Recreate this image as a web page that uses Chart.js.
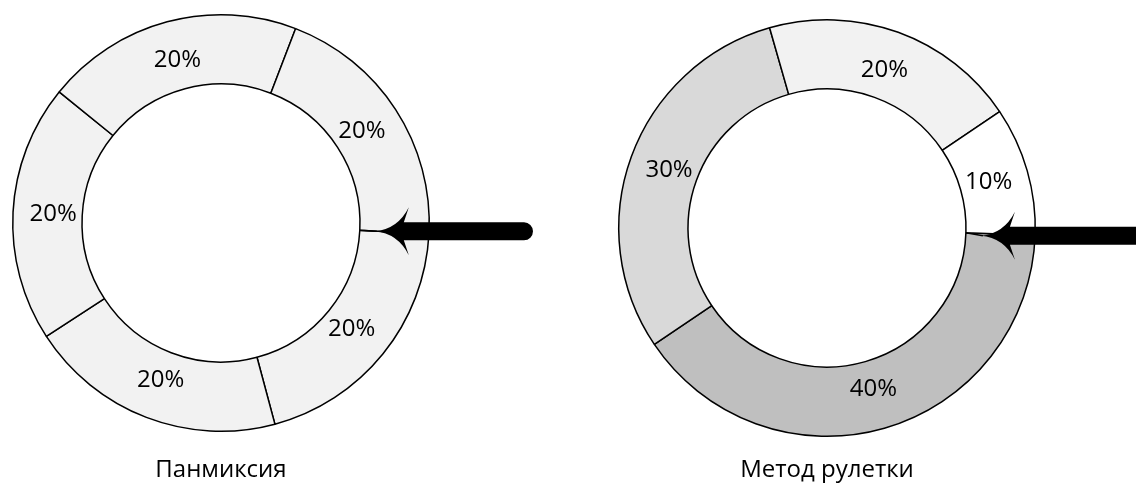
<!DOCTYPE html>
<html lang="ru">
<head>
<meta charset="utf-8">
<title>Панмиксия и метод рулетки</title>
<script src="https://cdn.jsdelivr.net/npm/chart.js@4.4.1/dist/chart.umd.min.js"></script>
<style>
  html, body { margin: 0; padding: 0; background: #fff; width: 1136px; height: 483px; overflow: hidden; }
  canvas { position: absolute; top: 0; }
  #panmixia { left: 0; }
  #roulette { left: 606px; }
</style>
</head>
<body>
<canvas id="panmixia" width="560" height="483"></canvas>
<canvas id="roulette" width="530" height="483"></canvas>
<script>
// Selection chances of the individuals, in percent, listed clockwise
// starting from the pointer.
const panmixiaTitle = 'Панмиксия';
const panmixiaSectors = ['Особь 1', 'Особь 2', 'Особь 3', 'Особь 4', 'Особь 5'];
const panmixiaShares = [20, 20, 20, 20, 20];

const rouletteTitle = 'Метод рулетки';
const rouletteSectors = ['Особь 1', 'Особь 2', 'Особь 3', 'Особь 4'];
const rouletteShares = [40, 30, 20, 10];

// Sector fills
const panmixiaFills = ['#f2f2f2', '#f2f2f2', '#f2f2f2', '#f2f2f2', '#f2f2f2'];
const rouletteFills = ['#bfbfbf', '#d9d9d9', '#f2f2f2', '#ffffff'];

const FONT = "'Open Sans', 'DejaVu Sans', sans-serif";
Chart.defaults.font.family = FONT;

// Writes "NN%" inside each sector, at its mid angle.
const sectorLabels = {
  id: 'sectorLabels',
  afterDatasetsDraw(chart, args, opts) {
    const ctx = chart.ctx;
    const meta = chart.getDatasetMeta(0);
    const values = chart.data.datasets[0].data;
    ctx.save();
    ctx.font = `${opts.size}px ${FONT}`;
    ctx.fillStyle = opts.color;
    ctx.textAlign = 'center';
    ctx.textBaseline = 'middle';
    meta.data.forEach((arc, i) => {
      const p = arc.getProps(['x', 'y', 'startAngle', 'endAngle', 'innerRadius', 'outerRadius'], true);
      const a = (p.startAngle + p.endAngle) / 2;
      const r = p.innerRadius + opts.depth * (p.outerRadius - p.innerRadius);
      ctx.fillText(values[i] + '%', p.x + r * Math.cos(a), p.y + r * Math.sin(a));
    });
    ctx.restore();
  }
};

// Thick pointer arrow aimed at the start of the first sector on the inner rim.
const wheelPointer = {
  id: 'wheelPointer',
  afterDraw(chart, args, opts) {
    const arc = chart.getDatasetMeta(0).data[0];
    const p = arc.getProps(['x', 'y', 'startAngle', 'innerRadius'], true);
    const tx = p.x + p.innerRadius * Math.cos(p.startAngle);
    const ty = p.y + p.innerRadius * Math.sin(p.startAngle);
    const sy = ty + opts.drop;
    const hx = tx + 15;
    const half = 9;
    const ctx = chart.ctx;
    ctx.save();
    ctx.fillStyle = '#000';
    ctx.strokeStyle = '#000';
    // fine tip running into the rim
    ctx.lineWidth = 1.5;
    ctx.beginPath();
    ctx.moveTo(tx, ty);
    ctx.lineTo(hx + 2, sy);
    ctx.stroke();
    // head with swept barbs, then the shaft with a rounded tail
    ctx.beginPath();
    ctx.moveTo(hx, sy);
    ctx.quadraticCurveTo(tx + 38, sy - 2, tx + 49, sy - 24);
    ctx.lineTo(tx + 44, sy - half);
    ctx.lineTo(opts.tailX, sy - half);
    ctx.arc(opts.tailX, sy, half, -Math.PI / 2, Math.PI / 2);
    ctx.lineTo(tx + 44, sy + half);
    ctx.lineTo(tx + 49, sy + 24);
    ctx.quadraticCurveTo(tx + 38, sy + 2, hx, sy);
    ctx.closePath();
    ctx.fill();
    ctx.restore();
  }
};

function wheel(canvasId, sectors, shares, fills, title, cfg) {
  return new Chart(document.getElementById(canvasId), {
    type: 'doughnut',
    data: {
      labels: sectors,
      datasets: [{
        data: shares,
        backgroundColor: fills,
        borderColor: '#000',
        borderWidth: 1.5
      }]
    },
    options: {
      responsive: false,
      animation: false,
      events: [],
      rotation: cfg.rotation,
      cutout: 139,
      layout: { padding: cfg.padding },
      plugins: {
        legend: { display: false },
        tooltip: { enabled: false },
        title: {
          display: true,
          text: title,
          position: 'bottom',
          color: '#000',
          font: { family: FONT, size: 24, weight: 'normal', lineHeight: 1 },
          padding: cfg.titlePadding
        },
        sectorLabels: { size: 24, color: '#000', depth: 0.42 },
        wheelPointer: cfg.pointer
      }
    },
    plugins: [sectorLabels, wheelPointer]
  });
}

wheel('panmixia', panmixiaSectors, panmixiaShares, panmixiaFills, panmixiaTitle, {
  rotation: 93,
  padding: { left: 12, top: 14, right: 130, bottom: 0 },
  titlePadding: { top: 26, bottom: 1 },
  pointer: { tailX: 524, drop: 1 }
});

wheel('roulette', rouletteSectors, rouletteShares, rouletteFills, rouletteTitle, {
  rotation: 92,
  padding: { left: 12, top: 19, right: 100, bottom: 0 },
  titlePadding: { top: 21, bottom: 1 },
  pointer: { tailX: 560, drop: 3 }
});
</script>
</body>
</html>
